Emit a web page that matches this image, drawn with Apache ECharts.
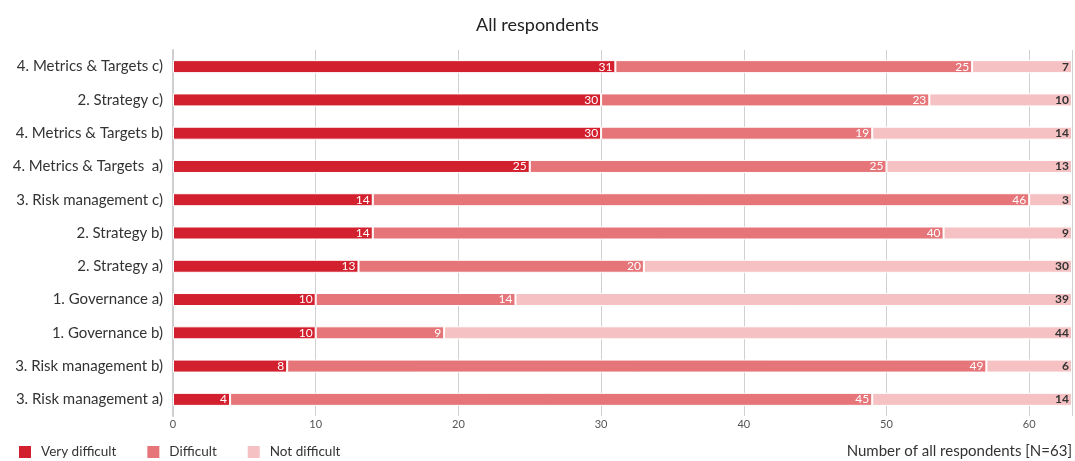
<!DOCTYPE html>
<html>
<head>
<meta charset="utf-8">
<script src="https://cdn.jsdelivr.net/npm/echarts@6/dist/echarts.min.js"></script>
<style>
  html, body { margin: 0; padding: 0; background: #fff; }
  #chart { width: 1075px; height: 461px; }
</style>
</head>
<body>
<div id="chart"></div>
<script>
// Survey items, listed top to bottom
const categories = [
  '4. Metrics & Targets c)',
  '2. Strategy c)',
  '4. Metrics & Targets b)',
  '4. Metrics & Targets  a)',
  '3. Risk management c)',
  '2. Strategy b)',
  '2. Strategy a)',
  '1. Governance a)',
  '1. Governance b)',
  '3. Risk management b)',
  '3. Risk management a)'
];
const veryDifficult = [31, 30, 30, 25, 14, 14, 13, 10, 10, 8, 4];
const difficult     = [25, 23, 19, 25, 46, 40, 20, 14, 9, 49, 45];
const notDifficult  = [7, 10, 14, 13, 3, 9, 30, 39, 44, 6, 14];
const seriesNames = ['Very difficult', 'Difficult', 'Not difficult'];
const xTicks = [0, 10, 20, 30, 40, 50, 60];

const FONT = 'Lato, "Open Sans", sans-serif';
const colors = ['#d3202e', '#e57579', '#f5c1c2'];

const chart = echarts.init(document.getElementById('chart'));

function barSeries(name, data, color, labelStyle) {
  return {
    name: name,
    type: 'bar',
    stack: 'total',
    data: data,
    barWidth: 13,
    itemStyle: { color: color, borderColor: '#fff', borderWidth: 1 },
    label: Object.assign({
      show: true,
      position: 'insideRight',
      fontFamily: FONT,
      fontSize: 12,
      distance: 3
    }, labelStyle),
    emphasis: { disabled: true }
  };
}

chart.setOption({
  animation: false,
  title: {
    text: 'All respondents',
    left: 'center',
    top: 11,
    textStyle: { fontFamily: FONT, fontSize: 18, fontWeight: 'normal', color: '#222' }
  },
  legend: {
    data: seriesNames,
    left: 17,
    bottom: 1,
    padding: 0,
    itemWidth: 14,
    itemHeight: 14,
    itemGap: 29,
    icon: 'rect',
    textStyle: { fontFamily: FONT, fontSize: 13.5, color: '#333', padding: [0, 0, 0, 4] }
  },
  grid: {
    left: 173,
    right: 3,
    top: 50,
    bottom: 45,
    containLabel: false
  },
  xAxis: {
    type: 'value',
    min: 0,
    max: 63,
    interval: 10,
    axisLine: { show: false },
    axisTick: { show: false },
    splitLine: { show: true, lineStyle: { color: '#d0d0d0', width: 1 } },
    axisLabel: {
      fontFamily: FONT,
      fontSize: 11,
      color: '#555',
      margin: 3,
      showMaxLabel: false,
      formatter: v => (xTicks.indexOf(v) >= 0 ? String(v) : '')
    }
  },
  yAxis: {
    type: 'category',
    data: categories,
    inverse: true,
    axisLine: { show: true, lineStyle: { color: '#cfcfcf', width: 2 } },
    axisTick: { show: false },
    axisLabel: { fontFamily: FONT, fontSize: 15, color: '#333', margin: 10 }
  },
  graphic: [{
    type: 'text',
    right: 3,
    bottom: 2,
    style: {
      text: 'Number of all respondents [N=63]',
      font: '15px ' + FONT,
      fill: '#333'
    }
  }],
  series: [
    barSeries(seriesNames[0], veryDifficult, colors[0], { color: '#fff' }),
    barSeries(seriesNames[1], difficult, colors[1], { color: '#fff' }),
    barSeries(seriesNames[2], notDifficult, colors[2], { color: '#333', fontWeight: 'bold' })
  ]
});
</script>
</body>
</html>
